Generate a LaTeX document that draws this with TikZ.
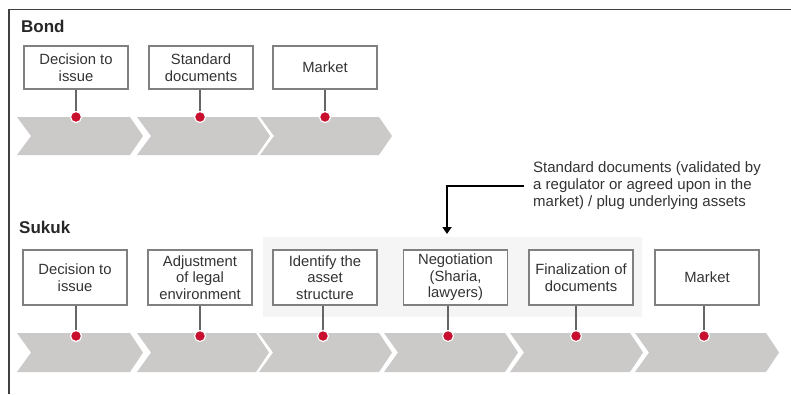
\documentclass[tikz,border=0pt]{standalone}
\usepackage{fontspec}
\setmainfont{Liberation Sans}
\usetikzlibrary{arrows.meta}
\definecolor{chevgray}{HTML}{CCC9C9}
\definecolor{boxgray}{HTML}{808080}
\definecolor{txtgray}{HTML}{333333}
\definecolor{dotred}{HTML}{C8102E}
\definecolor{hlgray}{HTML}{F5F5F5}
\tikzset{
  stepbox/.style={draw=boxgray, line width=1.3pt, fill=white, minimum width=104pt, minimum height=#1, inner sep=1pt, align=center, text=txtgray, font=\fontsize{14.8}{16.5}\selectfont},
  stepbox/.default=43pt,
  reddot/.style={circle, fill=dotred, draw=white, line width=1.2pt, minimum size=11pt, inner sep=0pt},
  stem/.style={draw=boxgray!80!black, line width=1.4pt},
  chev/.style={fill=chevgray},
  title/.style={font=\bfseries\fontsize{17}{19}\selectfont, text=black!85, anchor=west, inner sep=0pt},
  note/.style={font=\fontsize{15}{17}\selectfont, text=txtgray, align=left, anchor=west, inner sep=0pt},
  frame/.style={draw=black!75, line width=1.4pt}
}
\newcommand{\chevron}[4]{% start, shoulder, top, bottom
  \fill[chev] (#1,#3) -- (#2,#3) -- ({#2+13},{(#3+#4)/2}) -- (#2,#4) -- (#1,#4) -- ({#1+14},{(#3+#4)/2}) -- cycle;}
\begin{document}
\begin{tikzpicture}[x=1pt,y=-1pt]
\useasboundingbox (0,0) rectangle (791,394);
% frame
\draw[frame] (9,394) -- (9,9.5) -- (791,9.5);
% titles
\node[title] (bondt) at (21,26) {Bond};
\node[title] (sukukt) at (19,227) {Sukuk};
% highlight background
\fill[hlgray] (263,237) rectangle (642,317);
% bond chevrons
\chevron{17}{130}{117}{155}
\chevron{137}{257}{117}{155}
\chevron{260}{379}{117}{155}
% sukuk chevrons
\chevron{17}{130}{333}{372}
\chevron{137}{256}{333}{372}
\chevron{259}{379}{333}{372}
\chevron{384}{505}{333}{372}
\chevron{510}{630}{333}{372}
\chevron{635}{766}{333}{372}
% bond boxes
\node[stepbox] (b1) at (76,67.5) {Decision to\\issue};
\node[stepbox] (b2) at (201,67.5) {Standard\\documents};
\node[stepbox] (b3) at (325,67.5) {Market};
\node[reddot] (bd1) at (76,117) {};
\node[reddot] (bd2) at (200,117) {};
\node[reddot] (bd3) at (325,117) {};
\foreach \i in {1,2,3} \draw[stem] (b\i.south -| bd\i) -- (bd\i.north);
% sukuk boxes
\node[stepbox=55pt] (s1) at (75,277.5) {Decision to\\issue};
\node[stepbox=55pt] (s2) at (200,277.5) {Adjustment\\of legal\\environment};
\node[stepbox=55pt] (s3) at (325,277.5) {Identify the\\asset\\structure};
\node[stepbox=55pt] (s4) at (455.5,277.5) {Negotiation\\(Sharia,\\lawyers)};
\node[stepbox=55pt] (s5) at (581,277.5) {Finalization of\\documents};
\node[stepbox=55pt] (s6) at (707,277.5) {Market};
\node[reddot] (sd1) at (76,336) {};
\node[reddot] (sd2) at (200,336) {};
\node[reddot] (sd3) at (323,336) {};
\node[reddot] (sd4) at (448,336) {};
\node[reddot] (sd5) at (576,336) {};
\node[reddot] (sd6) at (704,336) {};
\foreach \i in {1,...,6} \draw[stem] (s\i.south -| sd\i) -- (sd\i.north);
% annotation
\node[note] (ann) at (533,186) {Standard documents (validated by\\a regulator or agreed upon in the\\market) / plug underlying assets};
\coordinate (arrend) at (447,234);
\draw[line width=1.8pt, black, -{Triangle[width=9pt,length=7pt]}] ([xshift=-9pt]ann.west) -| (arrend);
\end{tikzpicture}
\end{document}
